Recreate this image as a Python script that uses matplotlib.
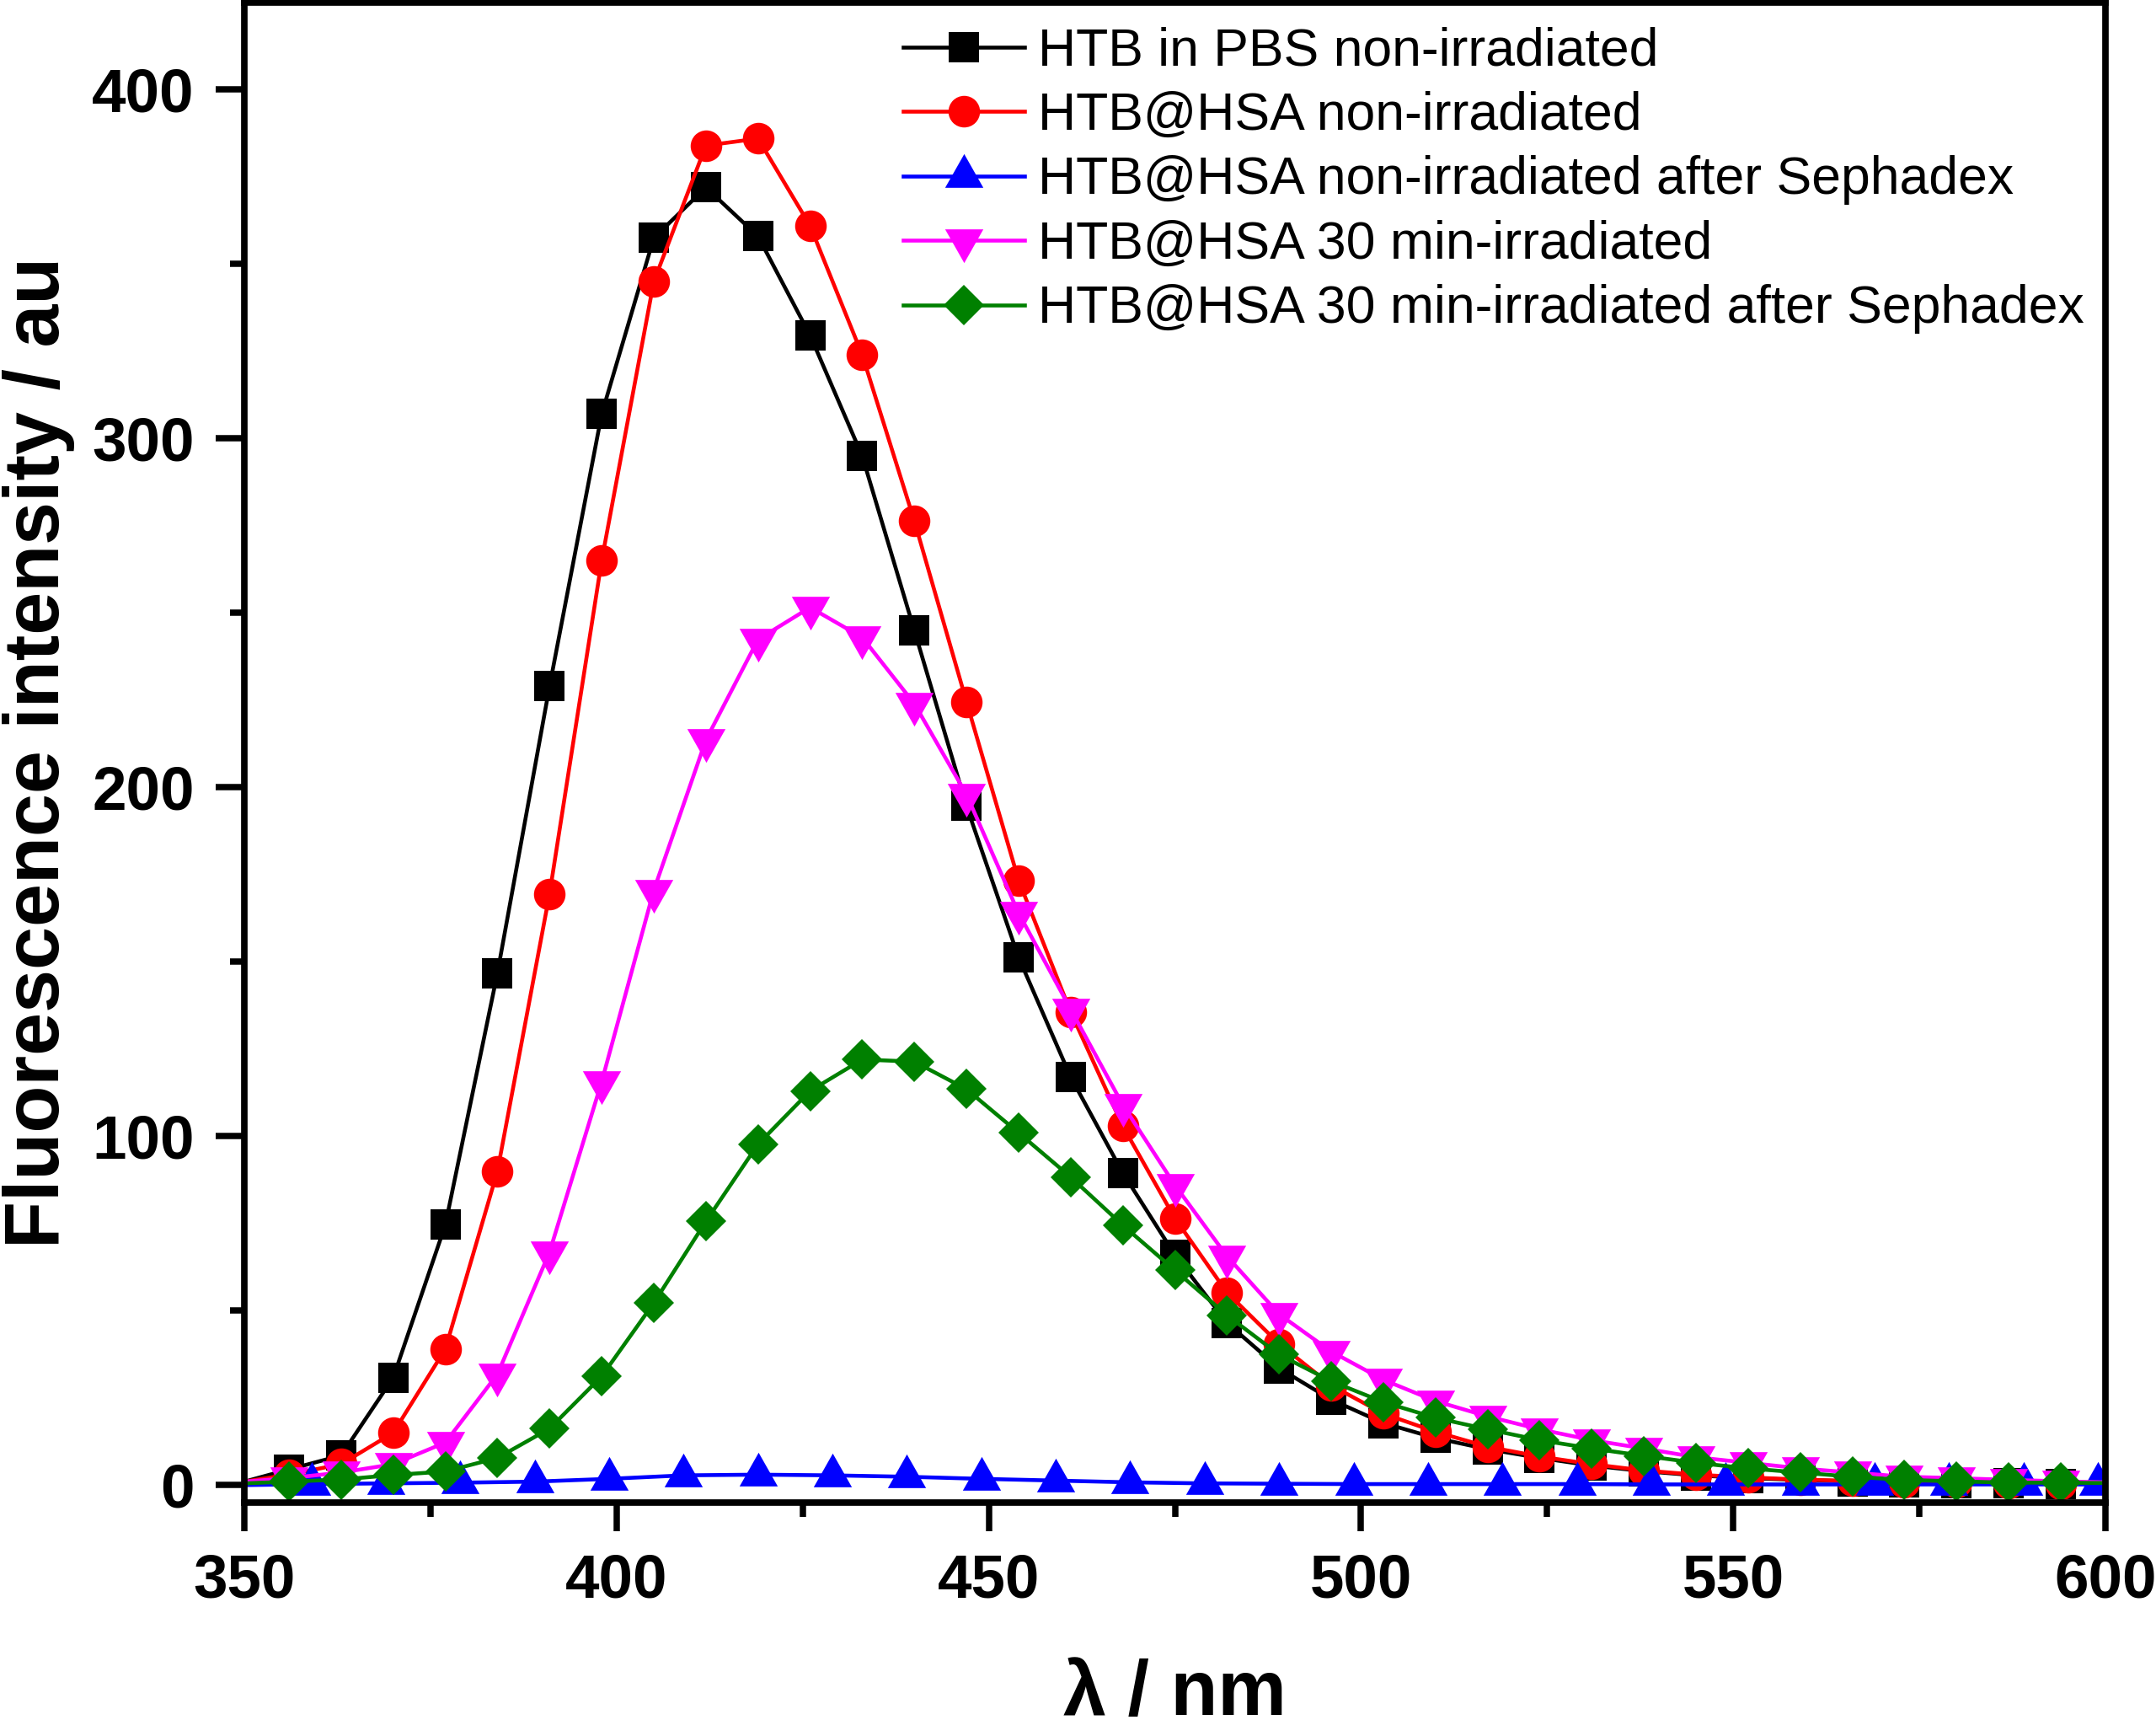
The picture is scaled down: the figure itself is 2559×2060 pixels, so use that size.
import matplotlib
matplotlib.use('Agg')
import matplotlib.pyplot as plt
from matplotlib.ticker import MultipleLocator

plt.rcParams['font.family'] = ['Liberation Sans', 'DejaVu Sans']
plt.rcParams['font.weight'] = 'bold'

# longitudes de onda de los marcadores (nm)
wl = [356, 363, 370, 377, 384, 391, 398, 405, 412, 419, 426, 433, 440, 447, 454,
      461, 468, 475, 482, 489, 496, 503, 510, 517, 524, 531, 538, 545, 552, 559,
      566, 573, 580, 587, 594]

htb_pbs = [4.5, 8.5, 30.8, 74.6, 146.8, 229, 307, 357.5, 372, 358, 329.6, 295, 245,
           194.7, 151.3, 117, 89.5, 66, 46.5, 33.5, 24.5, 17.8, 13.5, 10.3, 7.8,
           5.6, 4.0, 2.8, 2.0, 1.5, 1.1, 0.8, 0.6, 0.5, 0.4]

htb_hsa = [3.0, 6.0, 15.0, 39.0, 90.0, 169.5, 265, 345, 384, 386, 361, 324, 276.4,
           224.6, 173.4, 135.6, 102.9, 76.5, 55.2, 40.5, 28.6, 20.5, 15.3, 11.0, 8.2,
           6.0, 4.2, 3.0, 2.2, 1.6, 1.2, 0.9, 0.7, 0.5, 0.4]

htb_hsa_irr = [2.0, 3.6, 6.0, 12.2, 31.8, 66.8, 115.6, 170.5, 213.6, 242.4, 251.6,
               243, 224, 198, 164, 136.4, 109, 86, 65.6, 49, 38.3, 30.2, 24.1, 19.7,
               16, 12.9, 10.5, 8.0, 6.4, 4.8, 3.6, 2.4, 2.0, 1.5, 1.1]

htb_hsa_irr_seph = [1.0, 1.6, 2.9, 3.9, 7.8, 16.2, 31.2, 52.2, 75.6, 97.7, 113, 122,
                    121.4, 113.5, 101, 88.3, 74.5, 61.6, 48.7, 37.4, 29.8, 23.8, 19.3,
                    16.0, 12.9, 10.5, 8.4, 6.4, 4.8, 3.6, 2.4, 1.5, 1.1, 0.7, 0.7]

# serie azul: marcadores cada 10 nm
wl_blue = [359, 369, 379, 389, 399, 409, 419, 429, 439, 449, 459, 469, 479, 489, 499,
           509, 519, 529, 539, 549, 559, 569, 579, 589, 599]
htb_hsa_seph = [0.3, 0.5, 0.7, 1.0, 1.8, 2.8, 3.0, 2.8, 2.4, 1.8, 1.3, 0.8, 0.5, 0.4,
                0.3, 0.3, 0.3, 0.3, 0.2, 0.2, 0.2, 0.2, 0.2, 0.2, 0.2]

# extremos de las curvas (350 y 600 nm)
ends = {'pbs': (1.0, 0.3), 'hsa': (1.0, 0.3), 'seph': (0.0, 0.2),
        'irr': (1.0, 0.8), 'irr_seph': (0.5, 0.6)}

labels = ['HTB in PBS non-irradiated', 'HTB@HSA non-irradiated',
          'HTB@HSA non-irradiated after Sephadex', 'HTB@HSA 30 min-irradiated',
          'HTB@HSA 30 min-irradiated after Sephadex']

tri_up = [(0, 1), (-0.85, -0.5), (0.85, -0.5), (0, 1)]
tri_down = [(0, -1), (-0.85, 0.5), (0.85, 0.5), (0, -1)]

fig = plt.figure(figsize=(2559 / 300, 2060 / 300), dpi=300)
ax = fig.add_axes([0.11333, 0.13447, 0.97655 - 0.11333, 0.99854 - 0.13447])

lw = 1.1
ax.plot([350] + wl + [600], [ends['pbs'][0]] + htb_pbs + [ends['pbs'][1]],
        color='black', lw=lw, marker='s', ms=8.6, mew=0, markevery=slice(1, -1),
        label=labels[0])
ax.plot([350] + wl + [600], [ends['hsa'][0]] + htb_hsa + [ends['hsa'][1]],
        color='red', lw=lw, marker='o', ms=9, mew=0, markevery=slice(1, -1),
        label=labels[1])
ax.plot([350] + wl_blue + [600], [ends['seph'][0]] + htb_hsa_seph + [ends['seph'][1]],
        color='blue', lw=lw, marker=tri_up, ms=12.8, mew=0, markevery=slice(1, -1),
        label=labels[2])
ax.plot([350] + wl + [600], [ends['irr'][0]] + htb_hsa_irr + [ends['irr'][1]],
        color='magenta', lw=lw, marker=tri_down, ms=12.8, mew=0, markevery=slice(1, -1),
        label=labels[3])
ax.plot([350] + wl + [600], [ends['irr_seph'][0]] + htb_hsa_irr_seph + [ends['irr_seph'][1]],
        color='green', lw=lw, marker='D', ms=8.1, mew=0, markevery=slice(1, -1),
        label=labels[4])

ax.set_xlim(350, 600)
ax.set_ylim(-5, 425)
ax.xaxis.set_major_locator(MultipleLocator(50))
ax.xaxis.set_minor_locator(MultipleLocator(25))
ax.yaxis.set_major_locator(MultipleLocator(100))
ax.yaxis.set_minor_locator(MultipleLocator(50))

for s in ax.spines.values():
    s.set_linewidth(1.85)
ax.tick_params(which='major', direction='out', length=8.2, width=1.8, labelsize=17.5, pad=6)
ax.tick_params(which='minor', direction='out', length=4, width=1.8)
ax.tick_params(which='both', top=False, right=False)

ax.set_xlabel('λ / nm', fontsize=22, fontweight='bold', labelpad=14)
ax.set_ylabel('Fluorescence intensity / au', fontsize=22, fontweight='bold', labelpad=5)

ax.legend(loc='upper left', bbox_to_anchor=(0.354, 0.984), frameon=False,
          prop={'size': 15, 'weight': 'normal'}, handlelength=2.3, handletextpad=0.26,
          labelspacing=0.28, borderpad=0, borderaxespad=0, numpoints=1)

fig.savefig('out.png', dpi=300)
